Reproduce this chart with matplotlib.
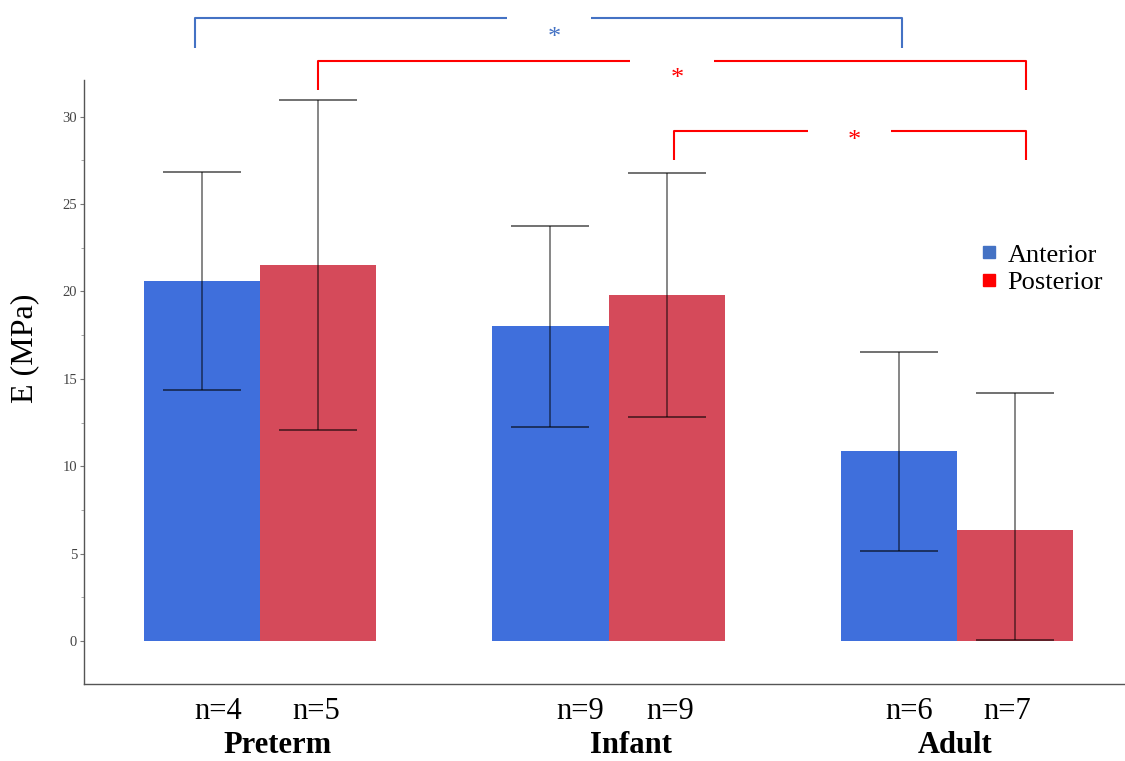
import matplotlib
matplotlib.use("Agg")
import matplotlib.pyplot as plt
import numpy as np
from matplotlib.lines import Line2D
import matplotlib.transforms as mtransforms

# ---- data ----
groups = ["Preterm", "Infant", "Adult"]
anterior_mean = [20.6, 18.0, 10.85]
anterior_err = [6.25, 5.75, 5.7]
posterior_mean = [21.5, 19.8, 6.35]
posterior_err_low = [9.4, 7.0, 6.3]
posterior_err_high = [9.45, 7.0, 7.85]
anterior_n = [4, 9, 6]
posterior_n = [5, 9, 7]
series_names = ["Anterior", "Posterior"]

# ---- style ----
BLUE = "#3f6fdc"
RED = "#d54a5a"
LEG_BLUE = "#4472c4"
LEG_RED = "#ff0000"
SERIF = ["Liberation Serif", "DejaVu Serif"]

fig = plt.figure(figsize=(11.25, 7.61), dpi=100)
ax = fig.add_axes([84 / 1125, 77 / 761, 1 - 84 / 1125, 604 / 761])

x = np.arange(len(groups))
w = 0.333
xa = x - w / 2
xp = x + w / 2

ax.bar(xa, anterior_mean, width=w, color=BLUE, zorder=2)
ax.bar(xp, posterior_mean, width=w, color=RED, zorder=2)
ax.errorbar(xa, anterior_mean, yerr=anterior_err, fmt="none", ecolor="black",
            alpha=0.6, elinewidth=1.1, capsize=28, capthick=1.3, zorder=3)
ax.errorbar(xp, posterior_mean, yerr=[posterior_err_low, posterior_err_high], fmt="none",
            ecolor="black", alpha=0.6, elinewidth=1.1, capsize=28, capthick=1.3, zorder=3)

ax.set_xlim(-0.505, 2.482)
ax.set_ylim(-2.46, 32.1)
ax.set_yticks([0, 5, 10, 15, 20, 25, 30])
ax.set_yticks(np.arange(0, 32, 2.5), minor=True)
ax.set_xticks([])
for s in ["top", "right"]:
    ax.spines[s].set_visible(False)
for s in ["left", "bottom"]:
    ax.spines[s].set_color("#555555")
    ax.spines[s].set_linewidth(1.0)
ax.tick_params(axis="y", which="major", length=3, width=0.8, color="#777777",
               labelsize=10.5, labelcolor="#444444", pad=2)
ax.tick_params(axis="y", which="minor", length=2, width=0.6, color="#999999")
for lbl in ax.get_yticklabels():
    lbl.set_family(SERIF)
ax.set_ylabel("E (MPa)", fontsize=23, family=SERIF)
ax.yaxis.label.set_va("center")
ax.yaxis.set_label_coords(-0.0567, 0.556)

# x labels (n and group names)
trans = mtransforms.blended_transform_factory(ax.transData, ax.transAxes)
px = 348.5  # pixels per group unit
n_offsets_a = [-42, -28, -48]
n_offsets_p = [56, 62, 50]
grp_offsets = [18, 22, -2]
for i in range(len(groups)):
    ax.text(x[i] + n_offsets_a[i] / px, -0.045, f"n={anterior_n[i]}", transform=trans,
            ha="center", va="center", fontsize=22, family=SERIF, clip_on=False)
    ax.text(x[i] + n_offsets_p[i] / px, -0.045, f"n={posterior_n[i]}", transform=trans,
            ha="center", va="center", fontsize=22, family=SERIF, clip_on=False)
    ax.text(x[i] + grp_offsets[i] / px, -0.101, groups[i], transform=trans,
            ha="center", va="center", fontsize=22, family=SERIF, fontweight="bold",
            clip_on=False)

# legend
handles = [Line2D([], [], marker="s", linestyle="none", color=LEG_BLUE, markersize=9),
           Line2D([], [], marker="s", linestyle="none", color=LEG_RED, markersize=9)]
ax.legend(handles, series_names, loc="upper left", frameon=False,
          bbox_to_anchor=(968 / 1125, 1 - 230 / 761), bbox_transform=fig.transFigure,
          prop={"family": SERIF, "size": 19}, handlelength=0.6, handletextpad=0.4,
          labelspacing=0.15, borderpad=0)

# significance brackets
def bracket(x1, x2, ytop, ybot, color, star_dy, gap=0.12):
    mid = (x1 + x2) / 2
    kw = dict(color=color, lw=1.5, clip_on=False, solid_capstyle="butt")
    ax.plot([x1, x1, mid - gap], [ybot, ytop, ytop], **kw)
    ax.plot([mid + gap, x2, x2], [ytop, ytop, ybot], **kw)
    ax.text(mid + 0.015, ytop + star_dy, "*", color=color, ha="center", va="center",
            fontsize=19, family=SERIF, clip_on=False)

bracket(xa[0] - 0.02, xa[2] + 0.01, 35.66, 33.94, LEG_BLUE, -1.15)
bracket(xp[0], xp[2] + 0.03, 33.2, 31.54, LEG_RED, -1.05)
bracket(xp[1] + 0.02, xp[2] + 0.03, 29.19, 27.53, LEG_RED, -0.6)

fig.savefig("out.png", dpi=100)
